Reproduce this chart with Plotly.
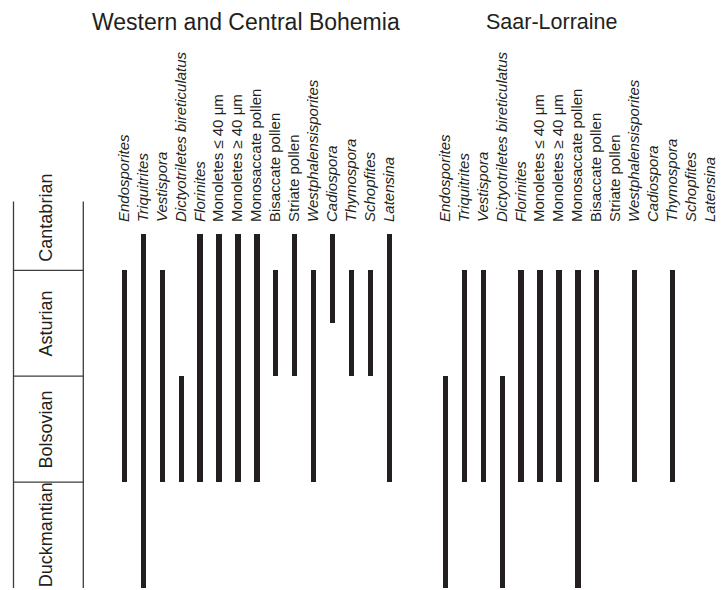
import plotly.graph_objects as go

# ---------------- data ----------------
taxa = ["Endosporites", "Triquitrites", "Vestispora", "Dictyotriletes bireticulatus",
        "Florinites", "Monoletes ≤ 40 μm", "Monoletes ≥ 40 μm", "Monosaccate pollen",
        "Bisaccate pollen", "Striate pollen", "Westphalensisporites", "Cadiospora",
        "Thymospora", "Schopfites", "Latensina"]
italic = [True, True, True, True, True, False, False, False, False, False,
          True, True, True, True, True]

# stratigraphic units: 0 = base of Duckmantian, each stage = 1 unit
stages = ["Duckmantian", "Bolsovian", "Asturian", "Cantabrian"]
stage_bottom = [0, 1, 2, 3]
stage_top = [1, 2, 3, 3.65]

# range bottoms / tops (None = absent)
bohemia_bottom = [1, 0, 1, 1, 1, 1, 1, 1, 2, 2, 1, 2.5, 2, 2, 1]
bohemia_top = [3, 3.34, 3, 2, 3.34, 3.34, 3.34, 3.34, 3, 3.34, 3, 3.34, 3, 3, 3.34]

saar_bottom = [0, 1, 1, 0, 1, 1, 1, 0, 1, None, 1, None, 1, None, None]
saar_top = [2, 3, 3, 2, 3, 3, 3, 3, 3, None, 3, None, 3, None, None]

titles = ["Western and Central Bohemia", "Saar-Lorraine"]

# ---------------- layout helpers ----------------
W, H = 728, 590
PX_UNIT = 105.9      # pixels per stage unit
BASE_PX = 588        # pixel row of value 0
INK = "#231f20"
FONT = "Liberation Sans, Arial, sans-serif"


def pp(py):
    return 1 - py / H


def px(x):
    return x / W


ticktext = [f"<i>{t}</i>" if it else t for t, it in zip(taxa, italic)]


def lengths(b, t):
    return [None if (bb is None or tt is None) else tt - bb for bb, tt in zip(b, t)]


fig = go.Figure()
fig.add_trace(go.Bar(x=taxa, base=bohemia_bottom, y=lengths(bohemia_bottom, bohemia_top),
                     width=0.28, marker=dict(color=INK, line=dict(width=0)),
                     xaxis="x", yaxis="y", showlegend=False, hoverinfo="skip"))
fig.add_trace(go.Bar(x=taxa, base=saar_bottom, y=lengths(saar_bottom, saar_top),
                     width=0.28, marker=dict(color=INK, line=dict(width=0)),
                     xaxis="x2", yaxis="y", showlegend=False, hoverinfo="skip"))

bar_top_px = 223
ytop = (BASE_PX - bar_top_px) / PX_UNIT
stage_top_px = 199
ytop2 = (BASE_PX - stage_top_px) / PX_UNIT

step = 18.92
xcommon = dict(type="category", categoryorder="array", categoryarray=taxa,
               range=[-0.5, len(taxa) - 0.5], side="top", tickangle=-90,
               tickmode="array", tickvals=taxa, ticktext=ticktext,
               showgrid=False, zeroline=False, showline=False, ticks="",
               tickfont=dict(family=FONT, size=15, color=INK), anchor="y")
col_w = 69.8
fig.update_layout(
    width=W, height=H, margin=dict(l=0, r=0, t=0, b=0),
    paper_bgcolor="white", plot_bgcolor="rgba(0,0,0,0)",
    barmode="overlay", bargap=0,
    xaxis=dict(domain=[px(124 - step / 2), px(124 + 14.5 * step)], **xcommon),
    xaxis2=dict(domain=[px(445 - step / 2), px(445 + 14.5 * step)], **xcommon),
    yaxis=dict(domain=[pp(BASE_PX), pp(bar_top_px)], range=[0, ytop],
               visible=False, fixedrange=True),
    xaxis3=dict(domain=[px(13.5 - 0.1 * col_w), px(13.5 + 1.1 * col_w)],
                range=[-0.1, 1.1], visible=False, anchor="y2"),
    yaxis2=dict(domain=[pp(BASE_PX), pp(stage_top_px)], range=[0, ytop2],
                visible=False, anchor="x3"),
)

# stage column
line = dict(color="#3c3c3c", width=1.3)
for xv in (0, 1):
    fig.add_shape(type="line", xref="x3", yref="y2", x0=xv, x1=xv,
                  y0=stage_bottom[0], y1=stage_top[-1], line=line)
for b in stage_bottom[1:]:
    fig.add_shape(type="line", xref="x3", yref="y2", x0=0, x1=1, y0=b, y1=b, line=line)
for name, b in zip(stages, stage_bottom):
    fig.add_annotation(text=name, xref="x3", yref="y2", x=0.47, y=b + 0.5,
                       textangle=-90, showarrow=False,
                       font=dict(family=FONT, size=18, color=INK))

# group titles
for title, xc, fs in zip(titles, [245.5, 551.5], [23, 21.5]):
    fig.add_annotation(text=title, xref="paper", yref="paper", x=px(xc), y=pp(22),
                       xanchor="center", yanchor="middle", showarrow=False,
                       font=dict(family=FONT, size=fs, color=INK))

fig.write_html("out.html", config={"displayModeBar": False},
               post_script="document.body.style.margin='0';"
                           "document.body.style.overflow='hidden';")
